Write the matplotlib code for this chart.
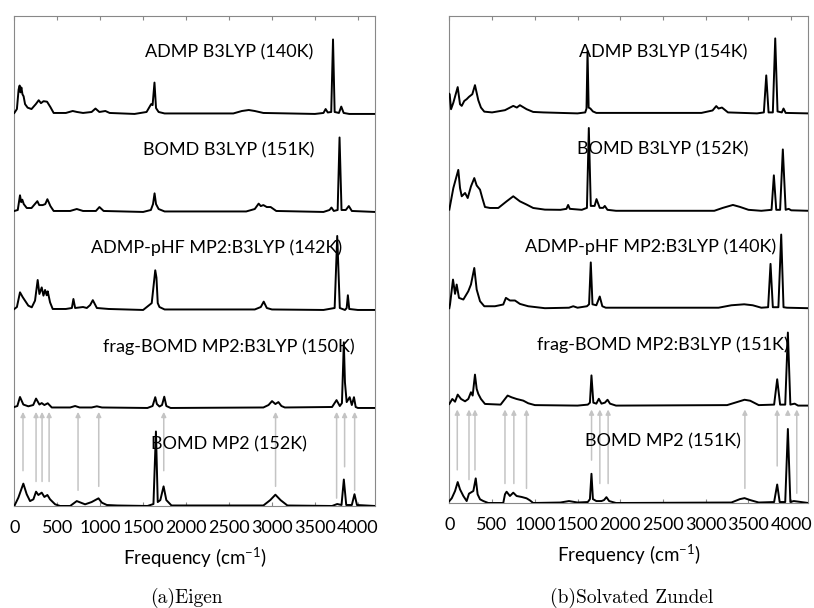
import matplotlib
matplotlib.use('Agg')
import matplotlib.pyplot as plt

plt.rcParams['font.family'] = ['Lato', 'DejaVu Sans']
plt.rcParams['mathtext.default'] = 'regular'

# frequency axis ticks
ticks = [0, 500, 1000, 1500, 2000, 2500, 3000, 3500, 4000]

# ---------------- (a) Eigen ----------------
eigen_labels = ['ADMP B3LYP (140K)', 'BOMD B3LYP (151K)', 'ADMP-pHF MP2:B3LYP (142K)',
                'frag-BOMD MP2:B3LYP (150K)', 'BOMD MP2 (152K)']

eigen_1_f = [0, 30, 50, 62, 72, 82, 95, 108, 125, 155, 200, 250, 284, 310, 340, 381, 420, 458, 600, 680,
             730, 800, 900, 945, 990, 1060, 1110, 1400, 1540, 1593, 1610, 1632, 1650, 1680, 1750, 2550,
             2650, 2730, 2800, 2900, 3500, 3600, 3625, 3650, 3690, 3711, 3730, 3780, 3807, 3835, 3900, 4200]
eigen_1_i = [0.01, 0.05, 0.25, 0.29, 0.22, 0.27, 0.2, 0.18, 0.1, 0.064, 0.05, 0.1, 0.14, 0.11, 0.13, 0.125,
             0.07, 0.01, 0.01, 0.03, 0.02, 0.01, 0.02, 0.055, 0.02, 0.03, 0.01, 0.0, 0.02, 0.1, 0.09, 0.32,
             0.06, 0.02, 0.005, 0.005, 0.03, 0.04, 0.03, 0.01, 0.0, 0.01, 0.05, 0.015, 0.02, 0.76, 0.02,
             0.01, 0.075, 0.01, 0.0, 0.0]

eigen_2_f = [0, 40, 66, 80, 93, 110, 145, 200, 268, 290, 330, 360, 385, 420, 458, 650, 727, 800, 950, 991,
             1040, 1500, 1590, 1615, 1633, 1650, 1680, 1750, 2700, 2800, 2845, 2870, 2900, 2940, 2985, 3050,
             3600, 3670, 3693, 3720, 3765, 3787, 3810, 3860, 3895, 3930, 4200]
eigen_2_i = [0.01, 0.02, 0.17, 0.1, 0.125, 0.08, 0.04, 0.04, 0.11, 0.07, 0.07, 0.08, 0.13, 0.06, 0.01, 0.01,
             0.03, 0.01, 0.01, 0.05, 0.01, 0.0, 0.02, 0.08, 0.19, 0.08, 0.03, 0.005, 0.005, 0.03, 0.085,
             0.06, 0.07, 0.05, 0.05, 0.01, 0.0, 0.02, 0.045, 0.01, 0.02, 0.76, 0.02, 0.02, 0.06, 0.01, 0.0]

eigen_3_f = [0, 30, 66, 98, 163, 203, 241, 272, 292, 319, 339, 358, 377, 389, 416, 447, 600, 670, 688, 708,
             800, 844, 883, 914, 961, 1100, 1500, 1600, 1641, 1655, 1670, 1690, 1750, 2800, 2870, 2904,
             2940, 3000, 3600, 3730, 3760, 3790, 3850, 3870, 3884, 3900, 4000, 4200]
eigen_3_i = [0.01, 0.03, 0.18, 0.13, 0.044, 0.027, 0.095, 0.306, 0.163, 0.23, 0.146, 0.204, 0.15, 0.19,
             0.078, 0.01, 0.01, 0.02, 0.112, 0.02, 0.03, 0.02, 0.05, 0.1, 0.02, 0.01, 0.0, 0.07, 0.405,
             0.33, 0.07, 0.03, 0.005, 0.005, 0.03, 0.085, 0.02, 0.005, 0.0, 0.02, 0.755, 0.02, 0.0, 0.02,
             0.15, 0.01, 0.0, 0.0]

eigen_4_f = [0, 35, 66, 105, 163, 220, 253, 292, 319, 350, 389, 436, 650, 708, 760, 900, 961, 1020, 1550,
             1610, 1641, 1660, 1690, 1720, 1746, 1770, 1820, 2900, 2960, 3001, 3040, 3075, 3110, 3150, 3700,
             3752, 3790, 3815, 3837, 3850, 3870, 3905, 3930, 3955, 3975, 4000, 4200]
eigen_4_i = [0.01, 0.02, 0.112, 0.035, 0.017, 0.03, 0.096, 0.035, 0.05, 0.03, 0.048, 0.005, 0.005, 0.02,
             0.005, 0.005, 0.017, 0.005, 0.0, 0.02, 0.11, 0.04, 0.015, 0.03, 0.115, 0.02, 0.0, 0.005, 0.03,
             0.07, 0.04, 0.06, 0.02, 0.005, 0.01, 0.08, 0.02, 0.05, 0.67, 0.26, 0.06, 0.11, 0.03, 0.11,
             0.01, 0.0, 0.0]

eigen_5_f = [0, 47, 105, 144, 183, 222, 253, 280, 319, 350, 385, 416, 475, 533, 650, 727, 824, 900, 980,
             1019, 1077, 1200, 1550, 1620, 1649, 1670, 1700, 1738, 1770, 1830, 2900, 2980, 3040, 3100, 3180,
             3700, 3760, 3810, 3837, 3865, 3930, 3961, 3990, 4200]
eigen_5_i = [0.0, 0.085, 0.228, 0.12, 0.05, 0.068, 0.146, 0.112, 0.136, 0.092, 0.112, 0.068, 0.017, 0.0,
             0.0, 0.05, 0.017, 0.04, 0.078, 0.034, 0.01, 0.005, 0.0, 0.02, 0.76, 0.04, 0.06, 0.2, 0.06,
             0.005, 0.005, 0.06, 0.115, 0.06, 0.005, 0.0, 0.02, 0.01, 0.27, 0.01, 0.01, 0.12, 0.01, 0.0]

# grey arrows: frequency, start height
eigen_arrow_f = [101, 253, 323, 405, 742, 983, 1740, 3042, 3753, 3846, 3963]
eigen_arrow_y0 = [0.36, 0.25, 0.25, 0.25, 0.16, 0.2, 0.36, 0.2, 0.08, 0.4, 0.16]

# ---------------- (b) Solvated Zundel ----------------
zundel_labels = ['ADMP B3LYP (154K)', 'BOMD B3LYP (152K)', 'ADMP-pHF MP2:B3LYP (140K)',
                 'frag-BOMD MP2:B3LYP (151K)', 'BOMD MP2 (151K)']

zundel_1_f = [0, 4, 20, 47, 98, 125, 145, 175, 203, 230, 269, 300, 339, 370, 409, 500, 651, 748, 790, 826,
              904, 981, 1100, 1500, 1590, 1605, 1617, 1630, 1650, 1680, 1720, 2950, 3080, 3123, 3150, 3190,
              3260, 3600, 3680, 3708, 3735, 3785, 3813, 3840, 3890, 3910, 3935, 4200]
zundel_1_i = [0.2, 0.197, 0.043, 0.11, 0.27, 0.094, 0.077, 0.128, 0.146, 0.17, 0.197, 0.29, 0.135, 0.06,
              0.018, 0.01, 0.033, 0.077, 0.06, 0.084, 0.043, 0.015, 0.01, 0.0, 0.01, 0.05, 0.64, 0.06, 0.05,
              0.02, 0.005, 0.005, 0.03, 0.075, 0.05, 0.06, 0.01, 0.0, 0.01, 0.39, 0.01, 0.01, 0.77, 0.02,
              0.01, 0.05, 0.005, 0.0]

zundel_2_f = [0, 47, 105, 125, 145, 184, 215, 253, 292, 320, 359, 386, 417, 475, 573, 670, 748, 826, 904,
              981, 1118, 1300, 1370, 1390, 1410, 1550, 1610, 1632, 1655, 1700, 1722, 1760, 1800, 1819, 1850,
              1950, 3100, 3200, 3318, 3400, 3500, 3650, 3770, 3797, 3825, 3870, 3902, 3935, 3970, 4000, 4200]
zundel_2_i = [0.012, 0.234, 0.42, 0.234, 0.149, 0.183, 0.131, 0.25, 0.336, 0.26, 0.217, 0.131, 0.039,
              0.029, 0.029, 0.097, 0.149, 0.097, 0.064, 0.029, 0.012, 0.01, 0.02, 0.06, 0.02, 0.01, 0.03,
              0.85, 0.05, 0.05, 0.12, 0.03, 0.03, 0.05, 0.01, 0.0, 0.0, 0.03, 0.06, 0.04, 0.01, 0.0, 0.01,
              0.364, 0.01, 0.01, 0.63, 0.01, 0.02, 0.005, 0.0]

zundel_3_f = [0, 8, 43, 67, 86, 113, 164, 222, 253, 292, 320, 359, 409, 534, 631, 662, 709, 768, 826, 923,
              1118, 1400, 1450, 1500, 1610, 1635, 1655, 1675, 1720, 1760, 1790, 1830, 3150, 3300, 3450, 3550,
              3650, 3730, 3758, 3785, 3850, 3883, 3910, 3950, 4200]
zundel_3_i = [0.0, 0.038, 0.294, 0.147, 0.243, 0.106, 0.089, 0.174, 0.243, 0.413, 0.192, 0.072, 0.02, 0.02,
              0.038, 0.106, 0.079, 0.079, 0.044, 0.02, 0.0, 0.005, 0.02, 0.005, 0.02, 0.04, 0.47, 0.04, 0.03,
              0.12, 0.02, 0.005, 0.005, 0.03, 0.04, 0.03, 0.005, 0.01, 0.455, 0.01, 0.01, 0.756, 0.01,
              0.005, 0.0]

zundel_4_f = [0, 35, 67, 98, 137, 184, 222, 253, 273, 300, 320, 339, 370, 417, 600, 651, 682, 729, 787, 865,
              923, 1001, 1500, 1620, 1645, 1663, 1685, 1720, 1749, 1780, 1820, 1851, 1880, 1950, 3250, 3380,
              3454, 3520, 3620, 3800, 3836, 3870, 3930, 3961, 3990, 4040, 4080, 4200]
zundel_4_i = [0.017, 0.068, 0.04, 0.113, 0.068, 0.044, 0.068, 0.137, 0.103, 0.318, 0.171, 0.12, 0.068,
              0.017, 0.01, 0.068, 0.103, 0.085, 0.068, 0.051, 0.024, 0.005, 0.0, 0.01, 0.03, 0.31, 0.03,
              0.02, 0.07, 0.02, 0.03, 0.06, 0.02, 0.0, 0.005, 0.04, 0.06, 0.05, 0.005, 0.01, 0.27, 0.01,
              0.01, 0.75, 0.01, 0.02, 0.0, 0.0]

zundel_5_f = [0, 28, 67, 98, 125, 164, 203, 230, 281, 309, 331, 359, 398, 456, 631, 651, 670, 709, 748, 787,
              846, 904, 943, 981, 1300, 1400, 1500, 1620, 1645, 1663, 1680, 1720, 1780, 1810, 1838, 1870,
              1950, 3300, 3400, 3454, 3520, 3620, 3800, 3836, 3865, 3930, 3961, 3990, 4030, 4200]
zundel_5_i = [0.02, 0.048, 0.123, 0.215, 0.14, 0.072, 0.02, 0.096, 0.123, 0.253, 0.089, 0.038, 0.02, 0.0,
              0.0, 0.089, 0.116, 0.072, 0.106, 0.072, 0.062, 0.048, 0.027, 0.0, 0.005, 0.02, 0.005, 0.01,
              0.04, 0.3, 0.04, 0.02, 0.02, 0.03, 0.06, 0.02, 0.0, 0.005, 0.04, 0.05, 0.03, 0.005, 0.01,
              0.19, 0.01, 0.01, 0.76, 0.01, 0.02, 0.0]

zundel_arrow_f = [93, 230, 300, 651, 755, 903, 1664, 1761, 1858, 3458, 3836, 3960, 4065]
zundel_arrow_y0 = [0.34, 0.24, 0.34, 0.2, 0.2, 0.15, 0.44, 0.2, 0.2, 0.15, 0.38, 0.9, 0.1]


def draw_panel(ax, traces, labels, label_x, arrow_f, arrow_y0):
    # traces listed top to bottom, stacked with unit offsets
    n = len(traces)
    for k, (f, inten) in enumerate(traces):
        off = n - 1 - k
        ax.plot(f, [v + off for v in inten], color='black', lw=1.4, zorder=3)
        ax.text(label_x[k], off + 0.63, labels[k], ha='center', va='center', fontsize=13, zorder=4)
    for f, y0 in zip(arrow_f, arrow_y0):
        ax.annotate('', xy=(f, 0.96), xytext=(f, y0),
                    arrowprops=dict(arrowstyle='-|>', color='#c4c4c4', lw=1.1,
                                    mutation_scale=7, shrinkA=0, shrinkB=0), zorder=1)
    ax.set_xlim(0, 4200)
    ax.set_ylim(0, 5)
    ax.set_xticks(ticks)
    ax.set_yticks([])
    ax.tick_params(axis='x', direction='in', top=True, length=3, color='#888888',
                   labelsize=13, pad=10)
    for s in ax.spines.values():
        s.set_color('#888888')
    ax.set_xlabel('Frequency (cm$^{-1}$)', fontsize=13.5, labelpad=7)


fig = plt.figure(figsize=(8.14, 6.08), dpi=100)
ax1 = fig.add_axes([0.0176, 0.1678, 0.4431, 0.806])
ax2 = fig.add_axes([0.552, 0.1727, 0.441, 0.801])

draw_panel(ax1,
           [(eigen_1_f, eigen_1_i), (eigen_2_f, eigen_2_i), (eigen_3_f, eigen_3_i),
            (eigen_4_f, eigen_4_i), (eigen_5_f, eigen_5_i)],
           eigen_labels, [2500, 2500, 2360, 2500, 2500], eigen_arrow_f, eigen_arrow_y0)
draw_panel(ax2,
           [(zundel_1_f, zundel_1_i), (zundel_2_f, zundel_2_i), (zundel_3_f, zundel_3_i),
            (zundel_4_f, zundel_4_i), (zundel_5_f, zundel_5_i)],
           zundel_labels, [2500, 2500, 2356, 2500, 2500], zundel_arrow_f, zundel_arrow_y0)

fig.text(0.2285, 0.0164, '(a)Eigen', family=['cmr10', 'DejaVu Serif'], fontsize=14,
         ha='center', va='center')
fig.text(0.776, 0.0164, '(b)Solvated Zundel', family=['cmr10', 'DejaVu Serif'], fontsize=14,
         ha='center', va='center')

fig.savefig('out.png', dpi=100)
